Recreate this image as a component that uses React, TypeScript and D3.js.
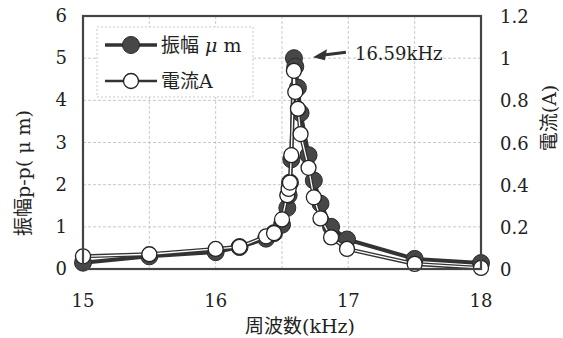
import React from 'react';
import * as d3 from 'd3';

// frequency sweep (kHz) with measured amplitude (um p-p) and current (A)
const freqKHz = [15.0, 15.5, 16.0, 16.18, 16.38, 16.44, 16.5, 16.54, 16.55, 16.56, 16.57, 16.59, 16.6, 16.62, 16.64, 16.7, 16.74, 16.79, 16.87, 16.99, 17.5, 18.0];
const amplitude = [0.15, 0.3, 0.4, 0.52, 0.72, 0.85, 1.05, 1.45, 1.75, 2.05, 2.6, 5.0, 4.8, 4.3, 3.7, 2.7, 2.1, 1.55, 1.0, 0.7, 0.24, 0.14];
const current = [0.06, 0.07, 0.095, 0.105, 0.155, 0.17, 0.235, 0.35, 0.38, 0.41, 0.54, 0.94, 0.84, 0.76, 0.64, 0.48, 0.34, 0.24, 0.15, 0.095, 0.024, 0.005];

const xTicks = [15, 16, 17, 18];
const xGrid = [15.5, 16, 16.5, 17, 17.5];
const leftTicks = [0, 1, 2, 3, 4, 5, 6];
const rightTicks = [0, 0.2, 0.4, 0.6, 0.8, 1, 1.2];

const peakLabel = '16.59kHz';
const peakFreq = 16.59;
const peakAmp = 5.0;

const W = 563;
const H = 338;
const left = 83, right = 481, top = 16, bottom = 269;

const FONT = "'DejaVu Serif', 'Noto Sans CJK JP', serif";
const INK = '#333';

export default function App() {
  const x = d3.scaleLinear().domain([15, 18]).range([left, right]);
  const yL = d3.scaleLinear().domain([0, 6]).range([bottom, top]);
  const yR = d3.scaleLinear().domain([0, 1.2]).range([bottom, top]);

  const ampLine = d3.line<number>().x((d, i) => x(freqKHz[i])).y(d => yL(d))(amplitude) || '';
  const curLine = d3.line<number>().x((d, i) => x(freqKHz[i])).y(d => yR(d))(current) || '';

  const ax = x(peakFreq);
  const ay = yL(peakAmp);

  return (
    <svg width={W} height={H} style={{ position: 'absolute', left: 0, top: 0, background: '#fff' }} fontFamily={FONT}>
      {/* grid */}
      {xGrid.map(v => (
        <line key={'gx' + v} x1={x(v)} x2={x(v)} y1={top} y2={bottom} stroke="#bbb" strokeWidth={0.8} strokeDasharray="3,2" />
      ))}
      {leftTicks.slice(1, -1).map(v => (
        <line key={'gy' + v} x1={left} x2={right} y1={yL(v)} y2={yL(v)} stroke="#bbb" strokeWidth={0.8} strokeDasharray="3,2" />
      ))}

      {/* amplitude series */}
      <path d={ampLine} fill="none" stroke={INK} strokeWidth={4} />
      {amplitude.map((v, i) => (
        <circle key={'a' + i} cx={x(freqKHz[i])} cy={yL(v)} r={8.5} fill="#474747" stroke="#2a2a2a" strokeWidth={1} />
      ))}

      {/* current series */}
      <path d={curLine} fill="none" stroke={INK} strokeWidth={4} />
      <path d={curLine} fill="none" stroke="#fff" strokeWidth={1.3} />
      {current.map((v, i) => (
        <circle key={'c' + i} cx={x(freqKHz[i])} cy={yR(v)} r={7.5} fill="#fff" stroke="#222" strokeWidth={1.3} />
      ))}

      {/* frame */}
      <rect x={left} y={top} width={right - left} height={bottom - top} fill="none" stroke="#444" strokeWidth={2.2} />

      {/* axes labels */}
      {xTicks.map(v => (
        <text key={'xt' + v} x={x(v)} y={307} textAnchor="middle" fontSize={18} fill="#222">{v}</text>
      ))}
      {leftTicks.map(v => (
        <text key={'yl' + v} x={67} y={yL(v) + 6} textAnchor="end" fontSize={18} fill="#222">{v}</text>
      ))}
      {rightTicks.map(v => (
        <text key={'yr' + v} x={500} y={yR(v) + 7} textAnchor="start" fontSize={18} fill="#222">{d3.format('~g')(v)}</text>
      ))}

      <text x={300} y={333} textAnchor="middle" fontSize={19} fill="#222">周波数(kHz)</text>
      <text transform={`translate(30,${173}) rotate(-90)`} textAnchor="middle" fontSize={19} fill="#222">振幅p-p( μ m)</text>
      <text transform={`translate(556,${118}) rotate(-90)`} textAnchor="middle" fontSize={19} fill="#222">電流(A)</text>

      {/* legend */}
      <rect x={97} y={27} width={156} height={70} fill="#fff" stroke="#bbb" strokeWidth={0.8} strokeDasharray="2,2" />
      <line x1={105} x2={157} y1={45} y2={45} stroke={INK} strokeWidth={3.5} />
      <circle cx={131} cy={45} r={8.5} fill="#474747" stroke="#2a2a2a" strokeWidth={1} />
      <text x={161} y={52} fontSize={19} fill="#222">振幅 <tspan fontStyle="italic">μ</tspan> m</text>
      <line x1={105} x2={157} y1={81} y2={81} stroke={INK} strokeWidth={2.5} />
      <circle cx={131} cy={81} r={7.5} fill="#fff" stroke="#222" strokeWidth={1.3} />
      <text x={161} y={88} fontSize={19} fill="#222">電流A</text>

      {/* peak annotation */}
      <line x1={ax + 52} x2={ax + 28} y1={ay - 6} y2={ay - 3} stroke={INK} strokeWidth={3} />
      <path d={`M${ax + 19},${ay - 1} L${ax + 33},${ay - 9} L${ax + 31},${ay + 2} Z`} fill={INK} />
      <text x={ax + 61} y={ay + 2} fontSize={18} fill="#222">{peakLabel}</text>
    </svg>
  );
}
